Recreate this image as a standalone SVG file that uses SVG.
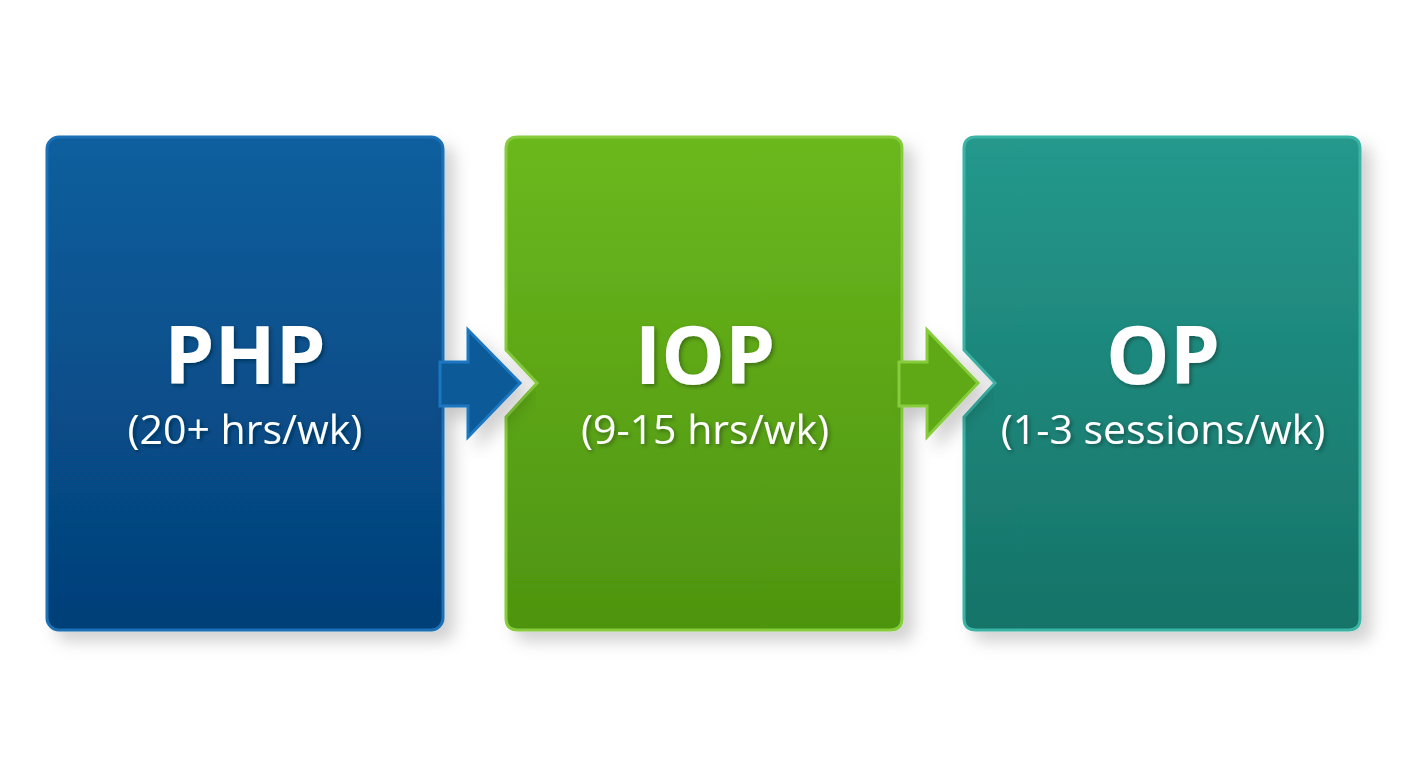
<svg xmlns="http://www.w3.org/2000/svg" width="1408" height="768" viewBox="0 0 1408 768">
<defs>
<linearGradient id="gb" x1="0" y1="0" x2="0" y2="1"><stop offset="0" stop-color="#0a5f9e"/><stop offset="1" stop-color="#053f78"/></linearGradient>
<linearGradient id="gg" x1="0" y1="0" x2="0" y2="1"><stop offset="0" stop-color="#6bb81e"/><stop offset="1" stop-color="#4e9410"/></linearGradient>
<linearGradient id="gt" x1="0" y1="0" x2="0" y2="1"><stop offset="0" stop-color="#25988c"/><stop offset="1" stop-color="#167368"/></linearGradient>
<filter id="sh" x="-10%" y="-10%" width="130%" height="130%"><feDropShadow dx="10" dy="10" stdDeviation="8" flood-color="#000" flood-opacity="0.18"/></filter>
<filter id="ts"><feDropShadow dx="2" dy="2" stdDeviation="2" flood-color="#000" flood-opacity="0.35"/></filter>
</defs>
<style>
.t1{font-family:"Open Sans","Liberation Sans",sans-serif;font-weight:700;font-size:80px;fill:#fff;text-anchor:middle}
.t2{font-family:"Open Sans","Liberation Sans",sans-serif;font-size:41px;fill:#fff;text-anchor:middle}
</style>
<rect width="1408" height="768" fill="#fff"/>
<g id="php" filter="url(#sh)">
<rect x="47" y="137" width="396" height="493" rx="12" fill="url(#gb)" stroke="#1a6fb5" stroke-width="3"/>
<text class="t1" x="245" y="384" filter="url(#ts)">PHP</text>
<text class="t2" x="245" y="444" filter="url(#ts)">(20+ hrs/wk)</text>
</g>
<g id="iop" filter="url(#sh)">
<path d="M518 137 H890 Q902 137 902 149 V618 Q902 630 890 630 H518 Q506 630 506 618 V417 L537 383 L506 350 V149 Q506 137 518 137 Z" fill="url(#gg)" stroke="#86cc3c" stroke-width="3"/>
<text class="t1" x="705" y="384" filter="url(#ts)">IOP</text>
<text class="t2" x="705" y="444" filter="url(#ts)">(9-15 hrs/wk)</text>
</g>
<g id="op" filter="url(#sh)">
<path d="M976 137 H1348 Q1360 137 1360 149 V618 Q1360 630 1348 630 H976 Q964 630 964 618 V417 L995 383 L964 350 V149 Q964 137 976 137 Z" fill="url(#gt)" stroke="#3ab3a5" stroke-width="3"/>
<text class="t1" x="1163" y="384" filter="url(#ts)">OP</text>
<text class="t2" x="1163" y="444" filter="url(#ts)">(1-3 sessions/wk)</text>
</g>
<g id="connectors">
<path d="M440 362 H468 V330 L520 383 L468 437 V406 H440 Z" fill="#0a5a98" stroke="#1a76c0" stroke-width="3" filter="url(#sh)"/>
<path d="M899 362 H927 V330 L978 383 L927 437 V406 H899 Z" fill="#5ea818" stroke="#86cc3c" stroke-width="3" filter="url(#sh)"/>
</g>
</svg>
